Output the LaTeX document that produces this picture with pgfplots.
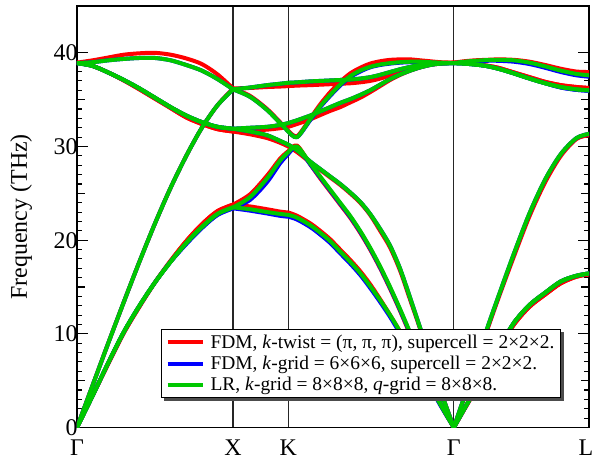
\documentclass[border=0pt]{standalone}
\usepackage{pgfplots}
\pgfplotsset{compat=1.18}
\usepackage{pgfplotstable}
\usepackage{fontspec}
\setmainfont{Liberation Serif}
\definecolor{cR}{RGB}{255,0,0}
\definecolor{cB}{RGB}{0,0,255}
\definecolor{cG}{RGB}{0,200,0}

% columns: x (path coordinate), g = LR, b = FDM k-grid, r = FDM k-twist
\pgfplotstableread{
x g b r
0 0 0 0
0.1 3.4 3.4 3.4
0.2 6.9 6.9 6.8
0.3 10.2 10.2 10.1
0.4 13.0 13.0 12.9
0.5 15.5 15.5 15.5
0.6 17.7 17.7 17.8
0.7 19.7 19.6 19.9
0.8 21.4 21.3 21.7
0.9 22.8 22.7 23.1
1.0 23.5 23.4 23.8
1.0 nan nan nan
1.0 23.5 23.4 23.8
1.109 23.3 23.15 23.6
1.218 23.0 22.85 23.3
1.301 22.8 22.6 23.05
1.3536 22.7 22.5 22.95
1.3536 nan nan nan
1.3536 22.7 22.5 22.95
1.410 22.4 22.2 22.6
1.494 21.6 21.4 21.8
1.558 20.8 20.6 21.0
1.622 19.9 19.7 20.1
1.686 18.8 18.6 19.0
1.750 17.7 17.5 17.9
1.814 16.5 16.3 16.7
1.878 15.1 14.9 15.3
1.942 13.6 13.4 13.7
2.006 12.0 11.8 12.0
2.071 10.2 10.0 10.2
2.135 8.3 8.1 8.3
2.199 6.3 6.2 6.3
2.263 4.4 4.3 4.4
2.327 2.5 2.4 2.5
2.4142 0 0 0
2.4142 nan nan nan
2.4142 0 0 0
2.48 1.95 1.95 1.9
2.55 4.0 4.0 3.9
2.62 6.0 6.0 5.9
2.70 8.4 8.4 8.3
2.80 11.2 11.2 11.0
2.90 13.1 13.1 12.9
3.00 14.4 14.4 14.2
3.10 15.6 15.6 15.4
3.20 16.2 16.2 16.1
3.2802 16.45 16.45 16.35
}\bandA

\pgfplotstableread{
x g b r
0 0 0 0
0.1 3.4 3.4 3.4
0.2 6.9 6.9 6.8
0.3 10.2 10.2 10.1
0.4 13.0 13.0 12.9
0.5 15.5 15.5 15.5
0.6 17.7 17.7 17.8
0.7 19.7 19.6 19.9
0.8 21.4 21.3 21.7
0.9 22.8 22.7 23.1
1.0 23.5 23.4 23.8
1.0 nan nan nan
1.0 23.5 23.4 23.8
1.109 24.6 24.3 24.9
1.218 26.6 26.2 26.9
1.301 28.5 28.2 28.7
1.3536 29.4 29.2 29.5
1.3536 nan nan nan
1.3536 29.4 29.2 29.5
1.410 30.0 29.9 30.1
1.494 28.2 28.1 28.1
1.558 26.8 26.7 26.6
1.622 25.4 25.3 25.2
1.686 24.0 23.9 23.8
1.750 22.6 22.5 22.4
1.814 21.0 20.9 20.8
1.878 19.2 19.1 19.0
1.942 17.2 17.1 17.0
2.006 15.0 14.9 14.8
2.071 12.6 12.5 12.4
2.135 10.1 10.0 9.9
2.199 7.6 7.5 7.5
2.263 5.1 5.0 5.0
2.327 2.6 2.6 2.5
2.4142 0 0 0
2.4142 nan nan nan
2.4142 0 0 0
2.48 1.95 1.95 1.9
2.55 4.0 4.0 3.9
2.62 6.0 6.0 5.9
2.70 8.4 8.4 8.3
2.80 11.2 11.2 11.0
2.90 13.1 13.1 12.9
3.00 14.4 14.4 14.2
3.10 15.6 15.6 15.4
3.20 16.2 16.2 16.1
3.2802 16.45 16.45 16.35
}\bandB

\pgfplotstableread{
x g b r
0 0 0 0
0.1 4.5 4.5 4.5
0.2 9.0 9.0 9.0
0.3 13.4 13.4 13.4
0.4 17.7 17.7 17.7
0.5 21.8 21.8 21.8
0.6 25.6 25.6 25.6
0.7 29.0 29.0 29.0
0.8 32.0 32.0 32.0
0.9 34.4 34.4 34.4
1.0 36.1 36.1 36.2
1.0 nan nan nan
1.0 36.1 36.1 36.2
1.109 35.3 35.3 35.4
1.218 33.9 33.9 34.0
1.301 32.5 32.5 32.6
1.3536 31.6 31.6 31.7
1.3536 nan nan nan
1.3536 31.6 31.6 31.7
1.410 31.0 31.0 31.1
1.494 32.9 32.8 33.0
1.558 34.3 34.2 34.5
1.622 35.5 35.4 35.8
1.686 36.6 36.5 36.9
1.750 37.5 37.4 37.8
1.814 38.1 38.0 38.4
1.878 38.5 38.45 38.85
1.942 38.75 38.7 39.1
2.006 38.9 38.85 39.25
2.071 39.0 38.95 39.3
2.135 39.05 39.0 39.3
2.199 39.05 39.0 39.2
2.263 39.0 38.95 39.1
2.327 38.95 38.9 39.0
2.4142 38.9 38.9 38.95
2.4142 nan nan nan
2.4142 38.9 38.9 38.95
2.48 38.85 38.85 38.9
2.55 38.75 38.75 38.8
2.62 38.6 38.6 38.65
2.70 38.3 38.3 38.4
2.80 37.8 37.8 37.9
2.90 37.25 37.25 37.4
3.00 36.75 36.75 36.9
3.10 36.35 36.3 36.55
3.20 36.1 36.05 36.35
3.2802 36.0 35.95 36.25
}\bandC

\pgfplotstableread{
x g b r
0 38.9 38.9 38.95
0.1 38.6 38.6 38.6
0.2 37.9 37.9 37.9
0.3 37.1 37.1 37.05
0.4 36.2 36.2 36.1
0.5 35.2 35.2 35.1
0.6 34.2 34.2 34.1
0.7 33.3 33.3 33.1
0.8 32.6 32.6 32.4
0.9 32.1 32.1 31.85
1.0 31.9 31.9 31.6
1.0 nan nan nan
1.0 31.9 31.9 31.6
1.109 31.6 31.6 31.3
1.218 31.2 31.2 30.9
1.301 30.6 30.6 30.4
1.3536 30.2 30.2 30.0
1.3536 nan nan nan
1.3536 30.2 30.2 30.0
1.410 29.6 29.6 29.4
1.494 28.4 28.4 28.3
1.558 27.6 27.6 27.5
1.622 26.8 26.8 26.7
1.686 26.0 26.0 25.9
1.750 25.1 25.1 25.0
1.814 24.1 24.1 24.0
1.878 22.8 22.8 22.7
1.942 21.2 21.2 21.0
2.006 19.4 19.4 19.2
2.071 16.9 16.9 16.7
2.135 13.8 13.8 13.6
2.199 10.6 10.6 10.5
2.263 7.3 7.3 7.2
2.327 4.0 4.0 4.0
2.4142 0 0 0
2.4142 nan nan nan
2.4142 0 0 0
2.48 3.2 3.2 3.1
2.55 6.5 6.5 6.4
2.62 10.2 10.2 10.0
2.70 14.0 14.0 13.8
2.80 18.6 18.6 18.3
2.90 22.9 22.9 22.6
3.00 26.5 26.5 26.2
3.10 29.2 29.2 29.0
3.20 30.9 30.9 30.8
3.2802 31.35 31.35 31.2
}\bandD

\pgfplotstableread{
x g b r
0 38.9 38.9 38.95
0.1 38.6 38.6 38.6
0.2 37.9 37.9 37.9
0.3 37.1 37.1 37.05
0.4 36.2 36.2 36.1
0.5 35.2 35.2 35.1
0.6 34.2 34.2 34.1
0.7 33.3 33.3 33.1
0.8 32.6 32.6 32.4
0.9 32.1 32.1 31.85
1.0 31.9 31.9 31.6
1.0 nan nan nan
1.0 31.9 31.9 31.6
1.109 32.0 32.0 31.7
1.218 32.1 32.1 31.8
1.301 32.3 32.3 31.95
1.3536 32.5 32.5 32.1
1.3536 nan nan nan
1.3536 32.5 32.5 32.1
1.410 32.8 32.8 32.4
1.494 33.3 33.3 32.9
1.558 33.75 33.75 33.35
1.622 34.2 34.2 33.8
1.686 34.65 34.65 34.2
1.750 35.05 35.05 34.7
1.814 35.5 35.5 35.2
1.878 36.0 36.0 35.8
1.942 36.6 36.6 36.45
2.006 37.2 37.2 37.1
2.071 37.7 37.7 37.65
2.135 38.1 38.1 38.1
2.199 38.45 38.45 38.45
2.263 38.7 38.7 38.7
2.327 38.85 38.85 38.85
2.4142 38.9 38.9 38.95
2.4142 nan nan nan
2.4142 38.9 38.9 38.95
2.48 38.85 38.85 38.9
2.55 38.75 38.75 38.8
2.62 38.6 38.6 38.65
2.70 38.3 38.3 38.4
2.80 37.8 37.8 37.9
2.90 37.25 37.25 37.4
3.00 36.75 36.75 36.9
3.10 36.35 36.3 36.55
3.20 36.1 36.05 36.35
3.2802 36.0 35.95 36.25
}\bandE

\pgfplotstableread{
x g b r
0 38.9 38.9 38.95
0.1 39.0 39.0 39.2
0.2 39.2 39.2 39.5
0.3 39.35 39.35 39.8
0.4 39.45 39.45 39.95
0.5 39.45 39.45 40.0
0.6 39.2 39.2 39.8
0.7 38.7 38.7 39.4
0.8 38.1 38.1 38.8
0.9 37.2 37.2 37.7
1.0 36.1 36.1 36.2
1.0 nan nan nan
1.0 36.1 36.1 36.2
1.109 36.3 36.3 36.25
1.218 36.55 36.55 36.35
1.301 36.7 36.7 36.4
1.3536 36.8 36.8 36.45
1.3536 nan nan nan
1.3536 36.8 36.8 36.45
1.410 36.85 36.85 36.5
1.494 36.95 36.95 36.55
1.558 37.0 37.0 36.6
1.622 37.05 37.05 36.65
1.686 37.1 37.1 36.7
1.750 37.15 37.15 36.75
1.814 37.25 37.25 36.85
1.878 37.4 37.4 37.0
1.942 37.65 37.65 37.25
2.006 37.95 37.95 37.6
2.071 38.25 38.25 38.1
2.135 38.5 38.5 38.45
2.199 38.7 38.7 38.7
2.263 38.8 38.8 38.85
2.327 38.87 38.87 38.9
2.4142 38.9 38.9 38.95
2.4142 nan nan nan
2.4142 38.9 38.9 38.95
2.48 39.05 39.0 39.1
2.55 39.15 39.1 39.2
2.62 39.22 39.15 39.25
2.70 39.25 39.15 39.3
2.80 39.2 39.05 39.25
2.90 38.95 38.8 39.05
3.00 38.55 38.4 38.7
3.10 38.1 37.95 38.3
3.20 37.75 37.6 38.0
3.2802 37.6 37.45 37.95
}\bandF

\pgfplotsset{
  band/.style={smooth, line width=4bp, line cap=round, line join=round, mark=none},
}

\begin{document}
\begin{tikzpicture}
\path[use as bounding box] (-77bp,-34.5bp) rectangle (516bp,427.5bp);
\begin{axis}[
  at={(0,0)}, anchor=south west,
  scale only axis, width=512bp, height=421.5bp,
  xmin=0, xmax=3.2802, ymin=0, ymax=45,
  unbounded coords=jump,
  xtick={0,1,1.3536,2.4142,3.2802},
  xticklabels={Γ,X,K,Γ,{\hspace*{-6bp}L}},
  xtick style={draw=none},
  xticklabel style={yshift=-9bp},
  xmajorgrids,
  major x grid style={black!85, line width=1.3bp},
  ytick={0,10,20,30,40},
  minor y tick num=9,
  extra y ticks={5,15,25,35},
  extra y tick labels={},
  extra y tick style={major tick length=8bp},
  tick align=inside,
  major tick length=11bp,
  minor tick length=5.5bp,
  every tick/.style={black, line width=1.1bp},
  axis line style={line width=1.6bp},
  /pgf/number format/assume math mode=true,
  tick label style={font=\fontsize{24}{28}\selectfont},
  yticklabel style={xshift=4bp},
  ylabel={Frequency (THz)},
  ylabel style={at={(axis description cs:-0.0977,0.5)}, anchor=base, rotate=0, font=\fontsize{24}{28}\selectfont},
  legend style={name=leg, at={(axis description cs:0.9453,0.070)}, anchor=south east,
    font=\fontsize{19.5}{22}\selectfont, draw=black, line width=1.1bp, fill=white,
    row sep=2.5bp, inner xsep=4bp, inner ysep=3bp},
  legend cell align=left,
  legend image code/.code={\draw[#1, line width=4bp, line cap=butt] (0bp,0bp) -- (35bp,0bp); \path (39bp,0bp);},
]
% FDM, k-twist (red)
\addplot[band, cR] table[x=x, y=r] {\bandA};
\addlegendentry{FDM, \textit{k}-twist = (π, π, π), supercell = 2×2×2.}
\addplot[band, cR, forget plot] table[x=x, y=r] {\bandB};
\addplot[band, cR, forget plot] table[x=x, y=r] {\bandC};
\addplot[band, cR, forget plot] table[x=x, y=r] {\bandD};
\addplot[band, cR, forget plot] table[x=x, y=r] {\bandE};
\addplot[band, cR, forget plot] table[x=x, y=r] {\bandF};
% FDM, k-grid (blue)
\addplot[band, cB] table[x=x, y=b] {\bandA};
\addlegendentry{FDM, \textit{k}-grid = 6×6×6, supercell = 2×2×2.}
\addplot[band, cB, forget plot] table[x=x, y=b] {\bandB};
\addplot[band, cB, forget plot] table[x=x, y=b] {\bandC};
\addplot[band, cB, forget plot] table[x=x, y=b] {\bandD};
\addplot[band, cB, forget plot] table[x=x, y=b] {\bandE};
\addplot[band, cB, forget plot] table[x=x, y=b] {\bandF};
% LR (green)
\addplot[band, cG] table[x=x, y=g] {\bandA};
\addlegendentry{LR, \textit{k}-grid = 8×8×8, \textit{q}-grid = 8×8×8.}
\addplot[band, cG, forget plot] table[x=x, y=g] {\bandB};
\addplot[band, cG, forget plot] table[x=x, y=g] {\bandC};
\addplot[band, cG, forget plot] table[x=x, y=g] {\bandD};
\addplot[band, cG, forget plot] table[x=x, y=g] {\bandE};
\addplot[band, cG, forget plot] table[x=x, y=g] {\bandF};
\end{axis}
% legend shadow strips (bottom and right)
\fill[black!70] ([xshift=3bp]leg.south west) rectangle ([xshift=3bp,yshift=-3bp]leg.south east);
\fill[black!70] ([yshift=-3bp]leg.north east) rectangle ([xshift=3bp,yshift=-3bp]leg.south east);
\end{tikzpicture}
\end{document}
